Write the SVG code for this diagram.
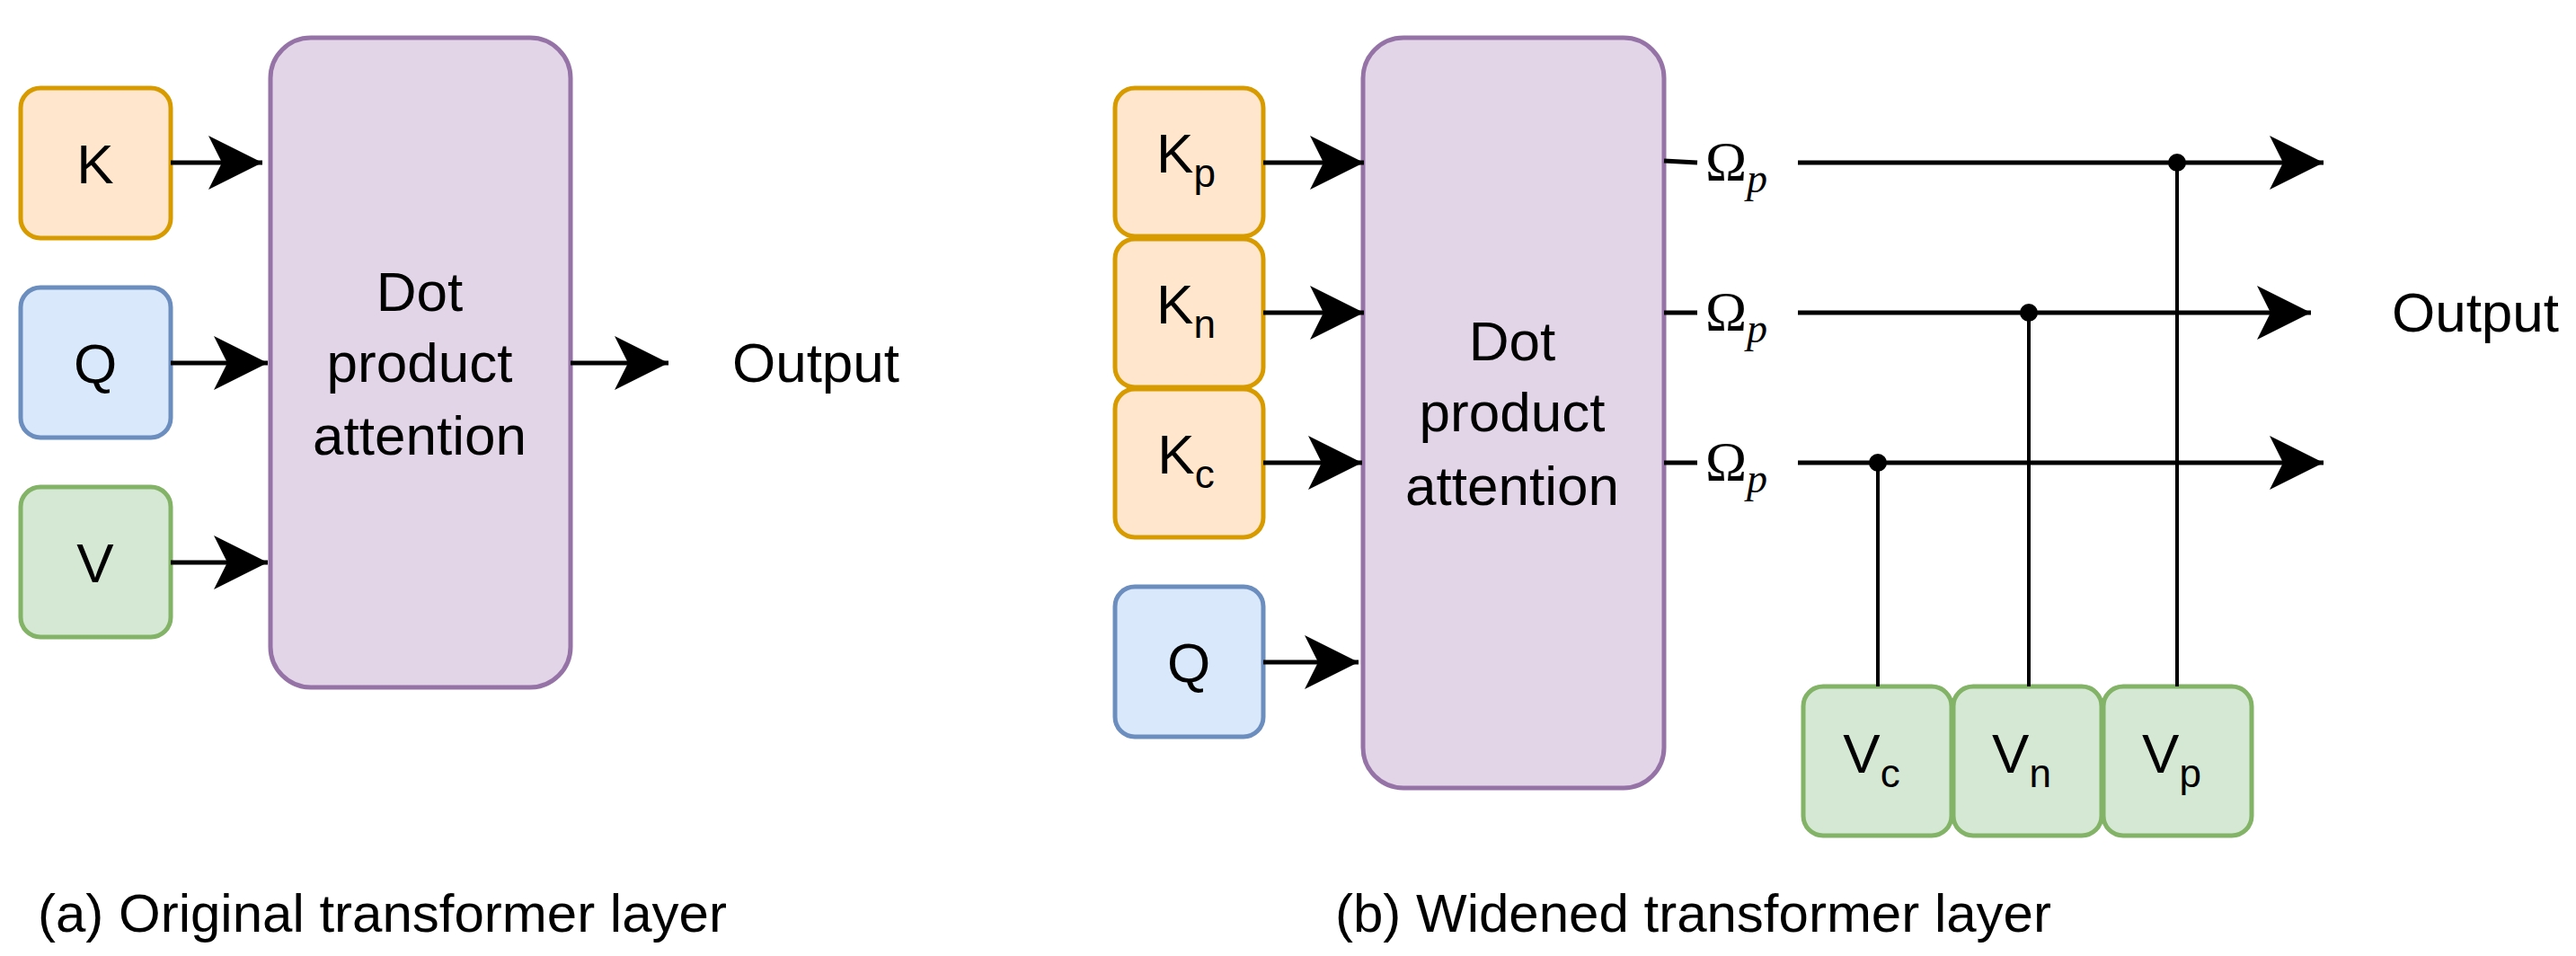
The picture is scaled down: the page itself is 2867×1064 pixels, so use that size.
<svg xmlns="http://www.w3.org/2000/svg" width="2867" height="1064" viewBox="0 0 2867 1064">
<style>
text{font-family:"Liberation Sans",Arial,sans-serif;fill:#000;}
.t{font-size:62px;text-anchor:middle;dominant-baseline:central;}
.cap{font-size:60px;}
.sub{font-size:44px;}
.o{fill:#ffe6cc;stroke:#d79b00;stroke-width:5;}
.b{fill:#dae8fc;stroke:#6c8ebf;stroke-width:5;}
.g{fill:#d5e8d4;stroke:#82b366;stroke-width:5;}
.p{fill:#e1d5e7;stroke:#9673a6;stroke-width:5;}
.ln{stroke:#000;stroke-width:5;fill:none;}
.thin{stroke:#000;stroke-width:4;fill:none;}
.arr{stroke:#000;stroke-width:5;fill:none;marker-end:url(#ah);}
.om{font-family:"Liberation Serif","Times New Roman",serif;font-size:62px;}
</style>
<defs>
<marker id="ah" markerWidth="12" markerHeight="12" refX="10" refY="5" orient="auto" markerUnits="strokeWidth" viewBox="0 0 10 10">
<path d="M0,0 L10,5 L0,10 L2.5,5 Z" fill="#000"/>
</marker>
</defs>
<g id="a-K"><rect class="o" x="23" y="98" width="167" height="167" rx="22"/><text class="t" x="106" y="182">K</text></g>
<g id="a-Q"><rect class="b" x="23" y="320" width="167" height="167" rx="22"/><text class="t" x="106" y="404">Q</text></g>
<g id="a-V"><rect class="g" x="23" y="542" width="167" height="167" rx="22"/><text class="t" x="106" y="626">V</text></g>
<g id="a-att"><rect class="p" x="301" y="42" width="334" height="723" rx="45"/>
<text class="t" x="467" y="324">Dot</text><text class="t" x="467" y="403">product</text><text class="t" x="467" y="484">attention</text></g>
<g id="a-out"><text class="t" x="908" y="403">Output</text></g>
<g id="b-Kp"><rect class="o" x="1241" y="98" width="165" height="165" rx="22"/><text class="t" x="1320" y="170">K<tspan class="sub" dy="22">p</tspan></text></g>
<g id="b-Kn"><rect class="o" x="1241" y="266" width="165" height="165" rx="22"/><text class="t" x="1320" y="338">K<tspan class="sub" dy="22">n</tspan></text></g>
<g id="b-Kc"><rect class="o" x="1241" y="433" width="165" height="165" rx="22"/><text class="t" x="1320" y="505">K<tspan class="sub" dy="22">c</tspan></text></g>
<g id="b-Q"><rect class="b" x="1241" y="653" width="165" height="167" rx="22"/><text class="t" x="1323" y="737">Q</text></g>
<g id="b-att"><rect class="p" x="1517" y="42" width="335" height="835" rx="45"/>
<text class="t" x="1683" y="379">Dot</text><text class="t" x="1683" y="458">product</text><text class="t" x="1683" y="540">attention</text></g>
<g id="b-Vc"><rect class="g" x="2007" y="764" width="165" height="166" rx="22"/><text class="t" x="2083" y="838">V<tspan class="sub" dy="22">c</tspan></text></g>
<g id="b-Vn"><rect class="g" x="2174" y="764" width="165" height="166" rx="22"/><text class="t" x="2250" y="838">V<tspan class="sub" dy="22">n</tspan></text></g>
<g id="b-Vp"><rect class="g" x="2341" y="764" width="165" height="166" rx="22"/><text class="t" x="2417" y="838">V<tspan class="sub" dy="22">p</tspan></text></g>
<g id="b-omega">
<text class="om" x="1898" y="200">Ω<tspan font-style="italic" font-size="46" dy="14">p</tspan></text>
<text class="om" x="1898" y="367">Ω<tspan font-style="italic" font-size="46" dy="14">p</tspan></text>
<text class="om" x="1898" y="534">Ω<tspan font-style="italic" font-size="46" dy="14">p</tspan></text>
</g>
<g id="b-out"><text class="t" x="2755" y="347">Output</text></g>
<g id="connectors">
<line class="arr" x1="190" y1="181" x2="292" y2="181"/>
<line class="arr" x1="190" y1="404" x2="298" y2="404"/>
<line class="arr" x1="190" y1="626" x2="298" y2="626"/>
<line class="arr" x1="635" y1="404" x2="744" y2="404"/>
<line class="arr" x1="1406" y1="181" x2="1518" y2="181"/>
<line class="arr" x1="1406" y1="348" x2="1518" y2="348"/>
<line class="arr" x1="1406" y1="515" x2="1516" y2="515"/>
<line class="arr" x1="1406" y1="737" x2="1512" y2="737"/>
<line class="ln" x1="1852" y1="179" x2="1889" y2="181"/>
<line class="ln" x1="1852" y1="348" x2="1889" y2="348"/>
<line class="ln" x1="1852" y1="515" x2="1889" y2="515"/>
<line class="arr" x1="2001" y1="181" x2="2586" y2="181"/>
<line class="arr" x1="2001" y1="348" x2="2572" y2="348"/>
<line class="arr" x1="2001" y1="515" x2="2586" y2="515"/>
<line class="thin" x1="2090" y1="515" x2="2090" y2="764"/>
<line class="thin" x1="2258" y1="348" x2="2258" y2="764"/>
<line class="thin" x1="2423" y1="181" x2="2423" y2="764"/>
<circle cx="2090" cy="515" r="10"/><circle cx="2258" cy="348" r="10"/><circle cx="2423" cy="181" r="10"/>
</g>
<text class="cap" x="42" y="1037">(a) Original transformer layer</text>
<text class="cap" x="1486" y="1037">(b) Widened transformer layer</text>
</svg>
